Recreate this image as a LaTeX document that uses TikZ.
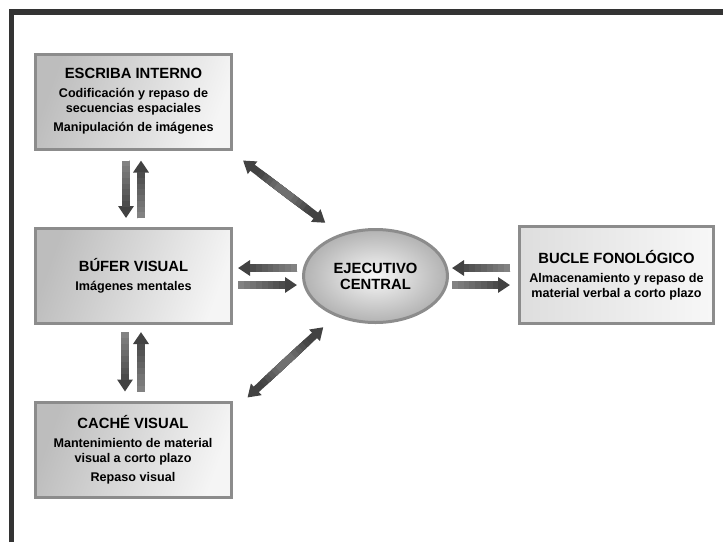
\documentclass[tikz,border=0pt]{standalone}
\usepackage{fontspec}
\setmainfont{Liberation Sans}
\usetikzlibrary{shapes.geometric,arrows.meta,calc}

\newcommand{\titlefont}{\bfseries\fontsize{14.8}{16}\selectfont}

\tikzset{
    modulo/.style={draw=black!45, line width=3pt, left color=black!26, right color=black!4,
        shading angle=70, minimum width=196pt, minimum height=95pt, align=center,
        font=\bfseries\fontsize{12.6}{15}\selectfont, inner sep=2pt},
    fat/.style={line width=7.5pt, draw=black!74, -{Triangle[width=15pt,length=12pt]}},
    fatboth/.style={line width=7.5pt, draw=black!74,
        {Triangle[width=15pt,length=12pt]}-{Triangle[width=15pt,length=12pt]}},
    fatpart/.style={line width=7.5pt}
}

\begin{document}
\begin{tikzpicture}[x=1pt,y=-1pt]
    \useasboundingbox (0,0) rectangle (723,542);
    %% Frame
    \draw[line width=5.5pt, black!80] (11.5,542) -- (11.5,12) -- (723,12);

    %% The modules
    \node[modulo] (escriba) at (133.5,101.5) {{\titlefont ESCRIBA INTERNO}\\[4pt]
        Codificación y repaso de\\ secuencias espaciales\\[4pt] Manipulación de imágenes};
    \node[modulo] (bufer) at (133.5,276) {{\titlefont BÚFER VISUAL}\\[4pt] Imágenes mentales};
    \node[modulo] (cache) at (133,449.5) {{\titlefont CACHÉ VISUAL}\\[4pt]
        Mantenimiento de material\\ visual a corto plazo\\[4pt] Repaso visual};
    \node[modulo, left color=black!13, right color=black!3, minimum width=194pt, minimum height=97pt]
        (bucle) at (616.5,275) {{\titlefont BUCLE FONOLÓGICO}\\[4pt]
        Almacenamiento y repaso de\\ material verbal a corto plazo};
    \node[ellipse, draw=black!45, line width=3pt, inner color=black!3, outer color=black!30,
        minimum width=144pt, minimum height=93pt, align=center,
        font=\titlefont] (ejecutivo) at (375.5,276) {EJECUTIVO\\ CENTRAL};

    %% Arrow ends
    \coordinate (e1) at ($(escriba.south)+(-7.5,10)$);
    \coordinate (e2) at ($(escriba.south)+(7.5,10)$);
    \coordinate (b1) at ($(bufer.north)+(-7.5,-9)$);
    \coordinate (b2) at ($(bufer.north)+(7.5,-9)$);
    \coordinate (b3) at ($(bufer.south)+(-8.5,7)$);
    \coordinate (b4) at ($(bufer.south)+(7.5,7)$);
    \coordinate (c1) at ($(cache.north)+(-8,-9)$);
    \coordinate (c2) at ($(cache.north)+(8,-9)$);
    \coordinate (b5) at ($(bufer.east)+(5,-8)$);
    \coordinate (b6) at ($(bufer.east)+(5,9)$);
    \coordinate (j1) at ($(ejecutivo.west)+(-5,-8)$);
    \coordinate (j2) at ($(ejecutivo.west)+(-5,9)$);
    \coordinate (j3) at ($(ejecutivo.east)+(3,-8)$);
    \coordinate (j4) at ($(ejecutivo.east)+(3,9)$);
    \coordinate (f1) at ($(bucle.west)+(-8,-7)$);
    \coordinate (f2) at ($(bucle.west)+(-8,10)$);
    \coordinate (e3) at ($(escriba.south east)+(10,10)$);
    \coordinate (j5) at ($(ejecutivo.135)+(-10,-13)$);
    \coordinate (c3) at ($(cache.north east)+(15,-3)$);
    \coordinate (j6) at ($(ejecutivo.225)+(-12,11)$);

    %% One way arrows, lighter towards the tail
    \foreach \a/\b in {e1/b1, b2/e2, b3/c1, c2/b4, j1/b5, b6/j2, f1/j3, j4/f2}{
        \draw[fat] (\a) -- (\b);
        \foreach \f in {0.8,0.7,...,0.05}{
            \pgfmathsetmacro\tono{46+30*\f}
            \draw[fatpart, black!\tono] (\a) -- ($(\a)!\f!(\b)$);
        }
    }
    %% Two way arrows, lighter in the middle
    \foreach \a/\b in {e3/j5, j6/c3}{
        \draw[fatboth] (\a) -- (\b);
        \foreach \f in {0.3,0.25,...,0.05}{
            \pgfmathsetmacro\tono{48+80*\f}
            \draw[fatpart, black!\tono] ($(\a)!0.5-\f!(\b)$) -- ($(\a)!0.5+\f!(\b)$);
        }
    }
\end{tikzpicture}
\end{document}
